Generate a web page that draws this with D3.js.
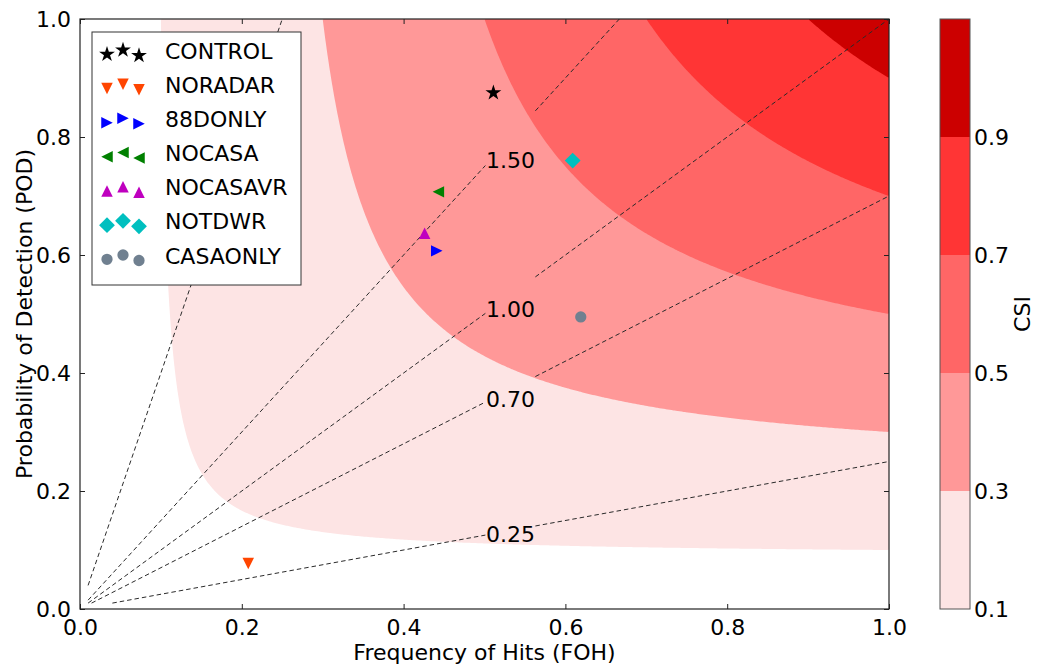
<!DOCTYPE html>
<html>
<head>
<meta charset="utf-8">
<script src="https://cdn.jsdelivr.net/npm/d3@7"></script>
<style>
  html, body { margin: 0; padding: 0; background: #fff; }
  svg { display: block; font-family: "DejaVu Sans", sans-serif; }
</style>
</head>
<body>
<svg id="chart" width="1039" height="669"></svg>
<script>
// Experiments plotted on the performance diagram
const experiments = ["CONTROL", "NORADAR", "88DONLY", "NOCASA", "NOCASAVR", "NOTDWR", "CASAONLY"];
const fohValues   = [0.511, 0.208, 0.441, 0.443, 0.426, 0.609, 0.619];
const podValues   = [0.875, 0.077, 0.607, 0.707, 0.637, 0.760, 0.495];
const markerKinds = ["star", "down", "right", "left", "up", "diamond", "circle"];
const markerColors = ["#000000", "#ff4500", "#0000ff", "#008000", "#bf00bf", "#00bfbf", "#708090"];

// CSI filled-contour levels and colours (last band runs to 1.1 on the colorbar)
const csiLevels = [0.1, 0.3, 0.5, 0.7, 0.9];
const csiTop = 1.1;
const csiColors = ["#fde4e4", "#ff9898", "#ff6666", "#ff3535", "#cc0000"];
const csiTicks = [0.1, 0.3, 0.5, 0.7, 0.9];

// Frequency-bias lines; only some carry a label
const biasLevels = [0.25, 0.7, 1.0, 1.5, 4.0];
const biasLabelled = [0.25, 0.7, 1.0, 1.5];
const biasLabelText = ["0.25", "0.70", "1.00", "1.50"];

const axisTicks = [0.0, 0.2, 0.4, 0.6, 0.8, 1.0];

const svg = d3.select("#chart");
const FONT = 22;
const plot = { left: 80, right: 889, top: 19, bottom: 609 };

const x = d3.scaleLinear().domain([0, 1]).range([plot.left, plot.right]);
const y = d3.scaleLinear().domain([0, 1]).range([plot.bottom, plot.top]);

svg.append("defs").append("clipPath").attr("id", "plotClip")
  .append("rect")
  .attr("x", plot.left).attr("y", plot.top)
  .attr("width", plot.right - plot.left).attr("height", plot.bottom - plot.top);

const gPlot = svg.append("g").attr("clip-path", "url(#plotClip)");

// ---- CSI field and filled contours ----
const n = 400;
const grid = new Float64Array(n * n);
for (let j = 0; j < n; j++) {
  const p = 1 - (j + 0.5) / n;
  for (let i = 0; i < n; i++) {
    const s = (i + 0.5) / n;
    grid[j * n + i] = 1 / (1 / s + 1 / p - 1);
  }
}
const bands = d3.contours().size([n, n]).thresholds(csiLevels)(grid);
const gridPath = d3.geoPath(d3.geoTransform({
  point(gx, gy) { this.stream.point(x(gx / n), y(1 - gy / n)); }
}));
const colorOf = d3.scaleThreshold().domain(csiLevels.slice(1)).range(csiColors);
gPlot.append("g").selectAll("path")
  .data(bands)
  .join("path")
  .attr("d", gridPath)
  .attr("fill", d => colorOf(d.value))
  .attr("stroke", "none");

// ---- Bias lines (POD = bias * FOH) ----
const labelFoh = 0.532;   // horizontal position of label centres
const labelAnchorFoh = 0.507;
const labelWidth = 48;
const line = d3.line().x(d => x(d[0])).y(d => y(d[1]));
const gBias = gPlot.append("g");
biasLevels.forEach(b => {
  const s0 = Math.max(0.01, 0.01 / b);
  const s1 = Math.min(1, 1 / b);
  const li = biasLabelled.indexOf(b);
  let pieces = [[s0, s1]];
  if (li >= 0) {
    const cx = x(labelFoh);
    const gapL = x.invert(cx - labelWidth / 2 - 1);
    const gapR = x.invert(cx + labelWidth / 2 + 1);
    pieces = [[s0, gapL], [gapR, s1]];
  }
  pieces.forEach(([a, c]) => {
    gBias.append("path")
      .attr("d", line([[a, a * b], [c, c * b]]))
      .attr("fill", "none")
      .attr("stroke", "#2a2a2a")
      .attr("stroke-width", 1)
      .attr("stroke-dasharray", "4.5,3");
  });
});
gPlot.append("g").selectAll("text")
  .data(biasLabelled)
  .join("text")
  .attr("x", x(labelFoh))
  .attr("y", b => y(Math.min(1, labelAnchorFoh * b)))
  .attr("text-anchor", "middle")
  .attr("dominant-baseline", "central")
  .attr("font-size", FONT)
  .attr("fill", "#000")
  .text((b, i) => biasLabelText[i]);

// ---- Marker shapes ----
function tri(rot) {
  return {
    draw(ctx, size) {
      const r = Math.sqrt(size) / 2;
      const pts = [[0, -r], [r, r], [-r, r]].map(([px, py]) => {
        const c = Math.cos(rot), s = Math.sin(rot);
        return [px * c - py * s, px * s + py * c];
      });
      ctx.moveTo(pts[0][0], pts[0][1]);
      ctx.lineTo(pts[1][0], pts[1][1]);
      ctx.lineTo(pts[2][0], pts[2][1]);
      ctx.closePath();
    }
  };
}
const diamondType = {
  draw(ctx, size) {
    const r = Math.sqrt(size) / 2;
    ctx.moveTo(0, -r); ctx.lineTo(r, 0); ctx.lineTo(0, r); ctx.lineTo(-r, 0); ctx.closePath();
  }
};
const shapeDefs = {
  star:    { type: d3.symbolStar, size: 78 },
  down:    { type: tri(Math.PI), size: 132 },
  right:   { type: tri(Math.PI / 2), size: 132 },
  left:    { type: tri(-Math.PI / 2), size: 132 },
  up:      { type: tri(0), size: 132 },
  diamond: { type: diamondType, size: 250 },
  circle:  { type: d3.symbolCircle, size: 100 }
};
function symbolPath(kind, scale = 1) {
  const def = shapeDefs[kind];
  return d3.symbol().type(def.type).size(def.size * scale)();
}

// ---- Experiment points ----
svg.append("g").selectAll("path")
  .data(experiments)
  .join("path")
  .attr("transform", (d, i) => `translate(${x(fohValues[i])},${y(podValues[i])})`)
  .attr("d", (d, i) => symbolPath(markerKinds[i]))
  .attr("fill", (d, i) => markerColors[i]);

// ---- Axes (ticks point inward on all four sides) ----
const spine = "#222";
const xAxis = svg.append("g").attr("transform", `translate(0,${plot.bottom})`)
  .call(d3.axisBottom(x).tickValues(axisTicks).tickFormat(d3.format(".1f")).tickSize(-5).tickPadding(10));
const yAxis = svg.append("g").attr("transform", `translate(${plot.left},0)`)
  .call(d3.axisLeft(y).tickValues(axisTicks).tickFormat(d3.format(".1f")).tickSize(-5).tickPadding(9));
const xTop = svg.append("g").attr("transform", `translate(0,${plot.top})`)
  .call(d3.axisTop(x).tickValues(axisTicks).tickFormat("").tickSize(-5));
const yRight = svg.append("g").attr("transform", `translate(${plot.right},0)`)
  .call(d3.axisRight(y).tickValues(axisTicks).tickFormat("").tickSize(-5));
[xAxis, yAxis, xTop, yRight].forEach(g => {
  g.select(".domain").remove();
  g.selectAll(".tick line").attr("stroke", spine);
  g.selectAll(".tick text").attr("font-size", FONT).attr("font-family", "DejaVu Sans").attr("fill", "#000");
});
svg.append("rect")
  .attr("x", plot.left).attr("y", plot.top)
  .attr("width", plot.right - plot.left).attr("height", plot.bottom - plot.top)
  .attr("fill", "none").attr("stroke", spine).attr("stroke-width", 1.2);

svg.append("text")
  .attr("x", (plot.left + plot.right) / 2).attr("y", 660)
  .attr("text-anchor", "middle").attr("font-size", FONT)
  .text("Frequency of Hits (FOH)");
svg.append("text")
  .attr("transform", `translate(32,${(plot.top + plot.bottom) / 2}) rotate(-90)`)
  .attr("text-anchor", "middle").attr("font-size", FONT)
  .text("Probability of Detection (POD)");

// ---- Legend ----
const leg = svg.append("g");
const legBox = { x: 92, y: 32, w: 209, h: 253 };
leg.append("rect")
  .attr("x", legBox.x).attr("y", legBox.y).attr("width", legBox.w).attr("height", legBox.h)
  .attr("fill", "#fff").attr("stroke", "#333").attr("stroke-width", 1);
const rowY = d3.scaleLinear().domain([0, experiments.length - 1]).range([50, 255]);
const repX = [107, 123, 139];
const repDy = [4.3, 0, 5.5];
experiments.forEach((name, i) => {
  const cy = rowY(i);
  repX.forEach((px, k) => {
    leg.append("path")
      .attr("transform", `translate(${px},${cy + repDy[k]})`)
      .attr("d", symbolPath(markerKinds[i], 1.0))
      .attr("fill", markerColors[i]);
  });
  leg.append("text")
    .attr("x", 165).attr("y", cy + 1)
    .attr("dominant-baseline", "central")
    .attr("font-size", FONT)
    .text(name);
});

// ---- Colorbar ----
const cb = { x: 940, w: 30 };
const cbScale = d3.scaleLinear().domain([csiLevels[0], csiTop]).range([plot.bottom, plot.top]);
const cbEdges = csiLevels.concat([csiTop]);
svg.append("g").selectAll("rect")
  .data(csiLevels)
  .join("rect")
  .attr("x", cb.x)
  .attr("y", (d, i) => cbScale(cbEdges[i + 1]))
  .attr("width", cb.w)
  .attr("height", (d, i) => cbScale(cbEdges[i]) - cbScale(cbEdges[i + 1]))
  .attr("fill", (d, i) => csiColors[i]);
svg.append("rect")
  .attr("x", cb.x).attr("y", plot.top).attr("width", cb.w).attr("height", plot.bottom - plot.top)
  .attr("fill", "none").attr("stroke", "#555").attr("stroke-width", 1);
const cbAxis = svg.append("g").attr("transform", `translate(${cb.x + cb.w},0)`)
  .call(d3.axisRight(cbScale).tickValues(csiTicks).tickFormat(d3.format(".1f")).tickSize(0).tickPadding(4));
cbAxis.select(".domain").remove();
cbAxis.selectAll(".tick text").attr("font-size", FONT).attr("font-family", "DejaVu Sans").attr("fill", "#000");
svg.append("text")
  .attr("transform", `translate(1030,${(plot.top + plot.bottom) / 2}) rotate(-90)`)
  .attr("text-anchor", "middle").attr("font-size", FONT)
  .text("CSI");
</script>
</body>
</html>
